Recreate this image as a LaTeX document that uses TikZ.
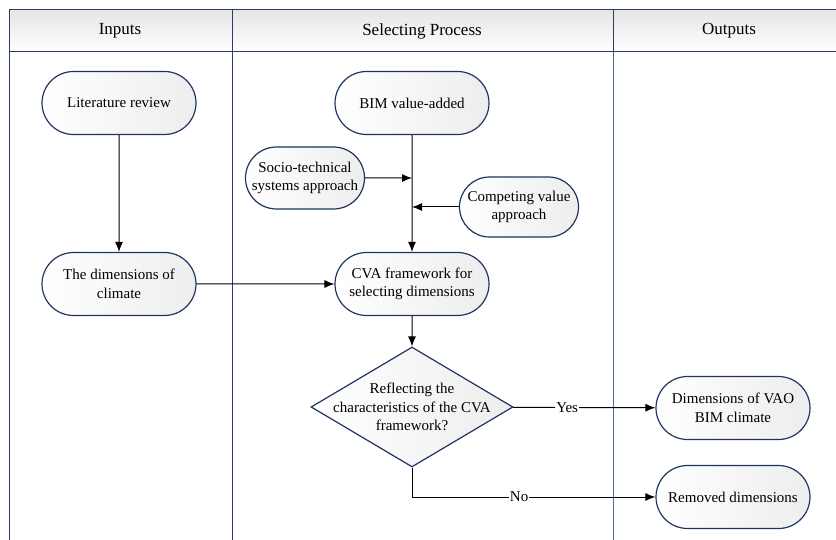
\documentclass[tikz,border=0pt]{standalone}
\usepackage{fontspec}
\setmainfont{Liberation Serif}
\usepackage{tikz}
\usetikzlibrary{shapes.misc}
\usetikzlibrary{shapes.geometric}
\usetikzlibrary{arrows.meta}
\tikzset{>={Latex[length=10pt,width=8pt]}}
\definecolor{lanecol}{HTML}{263F63}
\definecolor{lanecolb}{HTML}{4C6F9A}
\definecolor{boxcol}{HTML}{1F3560}

\begin{document}
\begin{tikzpicture}[x=1pt,y=-1pt,
		every node/.style={font=\fontsize{15}{18.5}\selectfont},
		stadium/.style={rounded rectangle,draw=boxcol,line width=1.2pt,left color=white,right color=black!7,align=center,minimum width=158pt,minimum height=63pt,inner sep=2pt},
		smallstadium/.style={stadium,minimum width=123pt,minimum height=62pt},
		decision/.style={diamond,draw=boxcol,line width=1.2pt,left color=white,right color=black!7,align=center,shape aspect=1.68,inner sep=-14pt,minimum width=202pt,minimum height=120pt},
		flow/.style={line width=1pt,->},
		tag/.style={fill=white,inner sep=1pt}]
		\useasboundingbox (0,0) rectangle (836,540);
		% swim lanes
		\fill[left color=black!10,right color=white,shading angle=0] (9,10) rectangle (836,52);
		\draw[lanecolb,line width=1pt] (613,52) -- (613,540);
		\draw[lanecol,line width=1pt] (9,540) -- (9,10) -- (836,10);
		\draw[lanecol,line width=1pt] (9,52) -- (836,52);
		\draw[lanecol,line width=1pt] (232,10) -- (232,540);
		\draw[lanecol,line width=1pt] (613,10) -- (613,52);
		\node[font=\fontsize{17}{20}\selectfont] (hin) at (120,31) {Inputs};
		\node[font=\fontsize{17}{20}\selectfont] (hsel) at (422,31) {Selecting Process};
		\node[font=\fontsize{17}{20}\selectfont] (hout) at (729,31) {Outputs};
		% boxes
		\node[stadium] (lit) at (119,103) {Literature review};
		\node[stadium] (dims) at (119,284) {The dimensions of\\climate};
		\node[stadium] (bim) at (412,103) {BIM value-added};
		\node[smallstadium] (socio) at (305,178) {Socio-technical\\systems approach};
		\node[smallstadium,minimum height=60pt] (cva) at (519,207) {Competing value\\approach};
		\node[stadium] (frame) at (412,284) {CVA framework for\\selecting dimensions};
		\node[decision] (check) at (412,407) {Reflecting the\\characteristics of the CVA\\framework?};
		\node[stadium] (vao) at (733,408) {Dimensions of VAO\\BIM climate};
		\node[stadium] (removed) at (733,497) {Removed dimensions};
		\coordinate (jsoc) at (412,178);
		\coordinate (jcva) at (412,207);
		% connectors
		\draw[flow] (lit) -- (dims);
		\draw[flow] (bim) -- (frame);
		\draw[flow] (socio) -- (jsoc);
		\draw[flow] (cva) -- (jcva);
		\draw[flow] (dims) -- (frame);
		\draw[flow] (frame) -- (check);
		\draw[flow] (check) -- node[tag,pos=0.38] {Yes} (vao);
		\draw[flow] (check.south) |- node[tag,pos=0.72] {No} (removed);
	\end{tikzpicture}
\end{document}
